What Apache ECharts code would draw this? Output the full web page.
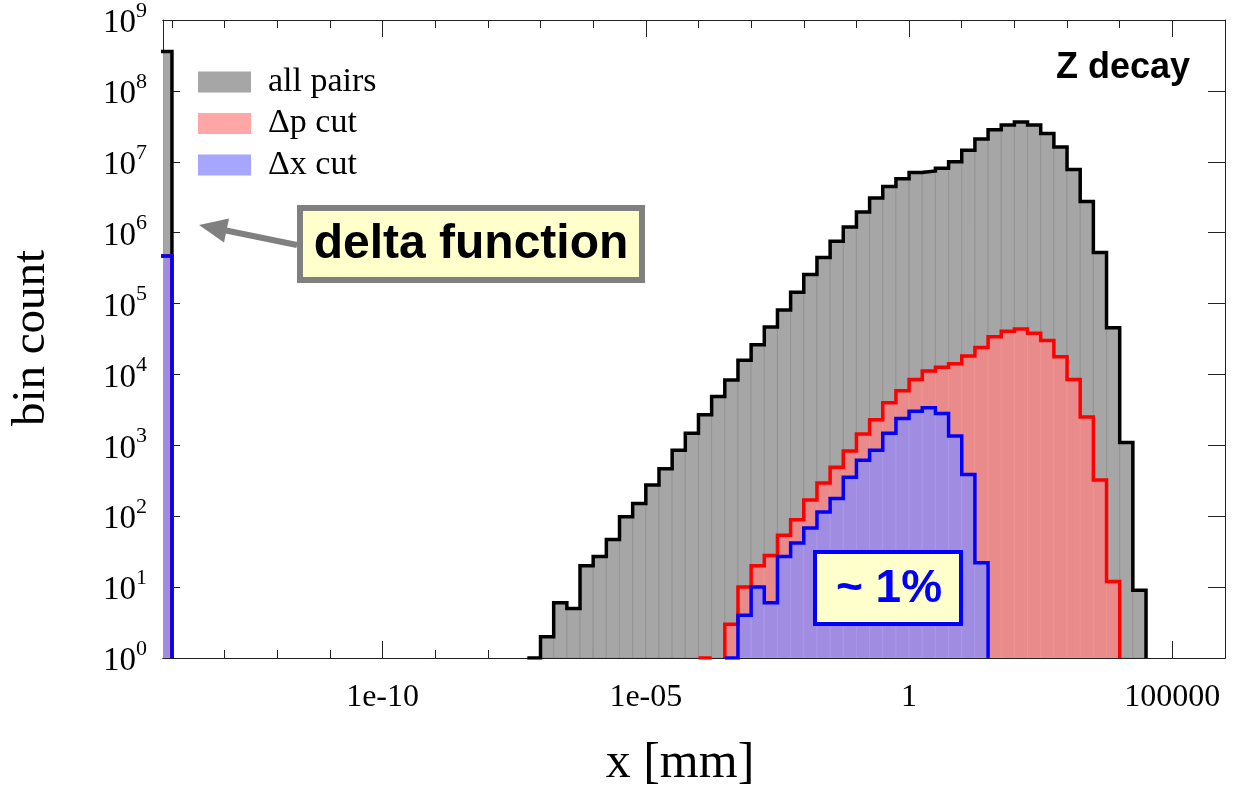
<!DOCTYPE html>
<html>
<head>
<meta charset="utf-8">
<script src="https://cdn.jsdelivr.net/npm/echarts@6/dist/echarts.min.js"></script>
<style>
  html, body { margin: 0; padding: 0; background: #fff; }
  #chart { width: 1248px; height: 785px; }
</style>
</head>
<body>
<div id="chart"></div>
<script>
// ---- data (x is given as log10 of x [mm]; bins are 0.25 decades wide) ----
const BIN_W = 0.25;
const seriesNames = ['all pairs', '\u0394p cut', '\u0394x cut'];

// the "delta function" bin (x = 0), placed at the far left of the axis
const deltaBinStart = -14.25;
const deltaCounts = [3.6e8, 4.7e5, 4.7e5];          // all pairs, Δp cut, Δx cut

// all pairs, first bin starts at log10(x) = -7.25
const allStart = -7.25;
const allCounts = [1, 2, 6, 5, 20, 27, 47, 98, 151, 275, 468, 851, 1479, 2692, 4898, 8318,
  15849, 26303, 46774, 81283, 144544, 257040, 446684, 758578, 1202264, 1949845, 3090295,
  4466836, 5754399, 7079458, 7413102, 8128305, 1.0e7, 1.45e7, 2.09e7, 2.82e7, 3.31e7, 3.63e7,
  3.31e7, 2.51e7, 1.62e7, 7.76e6, 2.75e6, 5.25e5, 4.57e4, 1096, 9];

// Δp cut, first bin starts at log10(x) = -4.0
const dpStart = -4.0;
const dpCounts = [1, 0, 3, 10, 20, 28, 54, 89, 170, 295, 490, 832, 1445, 2291, 3981, 5888,
  8511, 11220, 12589, 14125, 18197, 23988, 33884, 40738, 43652, 38019, 30200, 17783, 8511,
  2512, 324, 12];

// Δx cut, first bin starts at log10(x) = -3.5
const dxStart = -3.5;
const dxCounts = [1, 4, 10, 6, 27, 42, 68, 115, 178, 355, 617, 851, 1479, 2399, 3020, 3388,
  2818, 1349, 389, 22];

// axes
const xRange = [-14.17, 6.0];
const xTickValues = [-10, -5, 0, 5];
const xTickLabels = ['1e-10', '1e-05', '1', '100000'];
const xMinorValues = [-14, -13, -12, -11, -9, -8, -7, -6, -4, -3, -2, -1, 1, 2, 3, 4];
const yRange = [1, 1e9];

// ---- helpers ----
function groupsFor(i, start, counts) {
  return [{ start: deltaBinStart, counts: [deltaCounts[i]] }, { start: start, counts: counts }];
}
const groups = [
  groupsFor(0, allStart, allCounts),
  groupsFor(1, dpStart, dpCounts),
  groupsFor(2, dxStart, dxCounts)
];

function binData(gs) {
  const out = [];
  gs.forEach(g => g.counts.forEach((c, k) => {
    if (c > 0) {
      const l = g.start + k * BIN_W;
      out.push([l, l + BIN_W, c]);
    }
  }));
  return out;
}

// step outlines, split into contiguous segments
function outlineSegments(gs) {
  const segs = [];
  gs.forEach(g => {
    let cur = null;
    g.counts.forEach((c, k) => {
      const l = g.start + k * BIN_W, r = l + BIN_W;
      if (c > 0) {
        if (!cur) { cur = [[l, 1]]; }
        cur.push([l, c], [r, c]);
        const next = g.counts[k + 1];
        if (!(next > 0)) { cur.push([r, 1]); segs.push(cur); cur = null; }
      }
    });
  });
  return segs;
}

const fillStyles = [
  { fill: '#a6a6a6', stroke: '#949494' },
  { fill: '#e98b8b', stroke: '#f09393' },
  { fill: '#a08de2', stroke: '#a998ee' }
];
const legendColors = ['#a6a6a6', '#ffa6a6', '#a6a6ff'];
const lineColors = ['#000000', '#ff0000', '#0000ff'];

const series = [];
groups.forEach((gs, i) => {
  const st = fillStyles[i];
  series.push({
    name: seriesNames[i],
    type: 'custom',
    xAxisIndex: 0, yAxisIndex: 0,
    clip: true,
    z: 2 + i,
    silent: true,
    itemStyle: { color: legendColors[i] },
    encode: { x: [0, 1], y: 2 },
    data: binData(gs),
    renderItem: function (params, api) {
      const p0 = api.coord([api.value(0), api.value(2)]);
      const p1 = api.coord([api.value(1), 1]);
      const cs = params.coordSys;
      const left = Math.max(p0[0], cs.x);
      const right = Math.min(p1[0], cs.x + cs.width);
      if (right <= left) return null;
      return {
        type: 'rect',
        shape: { x: left, y: p0[1], width: right - left, height: p1[1] - p0[1] },
        style: { fill: st.fill, stroke: st.stroke, lineWidth: 1 }
      };
    }
  });
});
groups.forEach((gs, i) => {
  outlineSegments(gs).forEach((seg, j) => {
    series.push({
      name: seriesNames[i] + ' outline ' + j,
      type: 'line',
      xAxisIndex: 0, yAxisIndex: 0,
      data: seg,
      symbol: 'none',
      silent: true,
      clip: true,
      z: 10 + i,
      lineStyle: { color: lineColors[i], width: 3.5, join: 'miter', cap: 'butt' }
    });
  });
});

const serif = 'Liberation Serif';
const sans = 'Liberation Sans';
const axisColor = '#222';

function xAxisDef(pos, values, len, withLabels) {
  return {
    type: 'value', position: pos, min: xRange[0], max: xRange[1],
    axisLine: { show: true, onZero: false, lineStyle: { color: axisColor, width: 1 } },
    splitLine: { show: false },
    axisTick: { show: true, inside: true, length: len, customValues: values, lineStyle: { color: axisColor, width: 1 } },
    axisLabel: withLabels ? {
      show: true, customValues: xTickValues, margin: 24,
      fontFamily: serif, fontSize: 32, color: '#000',
      formatter: v => { const k = xTickValues.indexOf(Math.round(v)); return k >= 0 ? xTickLabels[k] : ''; }
    } : { show: false }
  };
}
function yAxisDef(pos, withLabels) {
  return {
    type: 'log', logBase: 10, position: pos, min: yRange[0], max: yRange[1], interval: 1, splitNumber: 9,
    axisLine: { show: true, onZero: false, lineStyle: { color: axisColor, width: 1 } },
    splitLine: { show: false },
    minorTick: { show: false },
    axisTick: { show: true, inside: true, length: 17, lineStyle: { color: axisColor, width: 1 } },
    axisLabel: withLabels ? {
      show: true, margin: 16, color: '#000',
      formatter: v => '{b|10}{s|' + Math.round(Math.log10(v)) + '}',
      rich: {
        b: { fontFamily: serif, fontSize: 33, lineHeight: 40, verticalAlign: 'bottom', color: '#000' },
        s: { fontFamily: serif, fontSize: 22, lineHeight: 22, verticalAlign: 'top', color: '#000' }
      }
    } : { show: false }
  };
}

const option = {
  animation: false,
  backgroundColor: '#ffffff',
  grid: { left: 163, right: 23, top: 19, bottom: 127, containLabel: false },
  xAxis: [
    xAxisDef('bottom', xTickValues, 17, true),
    xAxisDef('bottom', xMinorValues, 8, false),
    xAxisDef('top', xTickValues, 17, false),
    xAxisDef('top', xMinorValues, 8, false)
  ],
  yAxis: [yAxisDef('left', true), yAxisDef('right', false)],
  legend: {
    orient: 'vertical', left: 193, top: 60, padding: 5,
    itemWidth: 53, itemHeight: 21, itemGap: 7.5,
    icon: 'rect',
    selectedMode: false,
    data: seriesNames.map((n, i) => ({ name: n, itemStyle: { color: legendColors[i] } })),
    textStyle: { fontFamily: serif, fontSize: 34, color: '#000', lineHeight: 34, padding: [0, 0, 0, 12] }
  },
  series: series,
  graphic: [
    { type: 'text', x: 32, y: 338, rotation: Math.PI / 2, z: 50,
      style: { text: 'bin count', fontFamily: serif, fontSize: 47, fill: '#000', align: 'center', verticalAlign: 'middle' } },
    { type: 'text', x: 680, y: 764, z: 50,
      style: { text: 'x [mm]', fontFamily: serif, fontSize: 50, fill: '#000', align: 'center', verticalAlign: 'middle' } },
    { type: 'text', x: 1190, y: 68, z: 50,
      style: { text: 'Z decay', fontFamily: sans, fontWeight: 'bold', fontSize: 36, fill: '#000', align: 'right', verticalAlign: 'middle' } },
    // delta function annotation
    { type: 'line', z: 40, shape: { x1: 297, y1: 245, x2: 226, y2: 230.5 },
      style: { stroke: '#808080', lineWidth: 6 } },
    { type: 'polygon', z: 40, shape: { points: [[199, 225], [224, 242.5], [229, 218.5]] },
      style: { fill: '#808080' } },
    { type: 'rect', z: 41, shape: { x: 300, y: 208, width: 342, height: 72 },
      style: { fill: '#ffffcc', stroke: '#808080', lineWidth: 6 } },
    { type: 'text', x: 471, y: 245, z: 42,
      style: { text: 'delta function', fontFamily: sans, fontWeight: 'bold', fontSize: 48, fill: '#000', align: 'center', verticalAlign: 'middle' } },
    // ~1% annotation
    { type: 'rect', z: 41, shape: { x: 815, y: 552, width: 146, height: 72 },
      style: { fill: '#ffffcc', stroke: '#0000ff', lineWidth: 4 } },
    { type: 'text', x: 889, y: 589, z: 42,
      style: { text: '~ 1%', fontFamily: sans, fontWeight: 'bold', fontSize: 46, fill: '#0000ff', align: 'center', verticalAlign: 'middle' } }
  ]
};

const chart = echarts.init(document.getElementById('chart'), null, { renderer: 'canvas' });
chart.setOption(option);
</script>
</body>
</html>
